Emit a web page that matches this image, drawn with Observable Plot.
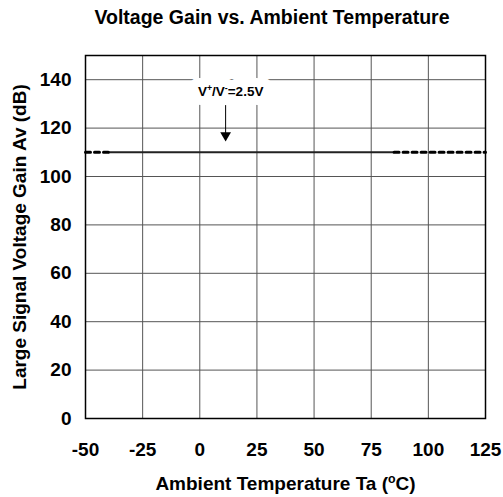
<!DOCTYPE html>
<html>
<head>
<meta charset="utf-8">
<script src="https://cdn.jsdelivr.net/npm/d3@7"></script>
<script src="https://cdn.jsdelivr.net/npm/@observablehq/plot@0.6"></script>
<style>
  html, body { margin: 0; padding: 0; background: #fff; }
  #title { width: 503px; height: 36px; line-height: 35px; text-align: center; font-family: "Liberation Sans", Arial, sans-serif; font-weight: bold; font-size: 19.5px; color: #000; padding-left: 41px; box-sizing: border-box; white-space: nowrap; }
</style>
</head>
<body>
<div id="title"></div>
<div id="chart"></div>
<script>
const titleText = "Voltage Gain vs. Ambient Temperature";
const xLabel = "Ambient Temperature Ta (°C)";
const yLabel = "Large Signal Voltage Gain Av (dB)";
const xTicks = [-50, -25, 0, 25, 50, 75, 100, 125];
const yTicks = [0, 20, 40, 60, 80, 100, 120, 140];
// measured (solid) range
const measTemp = [-40, 85];
const measGain = [110, 110];
// extrapolated (dotted) ranges
const extLeftTemp = [-50, -40];
const extLeftGain = [110, 110];
const extRightTemp = [85, 125];
const extRightGain = [110, 110];
// annotation
const noteText = ["V+/V-=2.5V"];
const noteX = [13.5];
const noteY = [135];
const arrowX = [11.3];
const arrowFrom = [129.5];
const arrowTo = [117];

document.getElementById("title").textContent = titleText;

const toRows = (xs, ys) => xs.map((x, i) => ({x, y: ys[i]}));

const chart = Plot.plot({
  width: 503,
  height: 461,
  marginTop: 19,
  marginBottom: 79,
  marginLeft: 85,
  marginRight: 18,
  style: {fontFamily: "'Liberation Sans', Arial, sans-serif", fontSize: "19px", fontWeight: "bold", color: "#000", background: "#fff"},
  x: {domain: [-50, 125], ticks: xTicks, tickFormat: d => String(d), tickSize: 0, tickPadding: 24, label: xLabel, labelAnchor: "center", labelArrow: "none", labelOffset: 71},
  y: {domain: [0, 150], ticks: yTicks, tickFormat: d => String(d), tickSize: 0, tickPadding: 14, label: yLabel, labelAnchor: "center", labelArrow: "none", labelOffset: 73},
  marks: [
    Plot.gridX(xTicks, {stroke: "#555", strokeOpacity: 1, strokeWidth: 1}),
    Plot.gridY(yTicks, {stroke: "#555", strokeOpacity: 1, strokeWidth: 1}),
    Plot.frame({stroke: "#000", strokeWidth: 1.5}),
    Plot.line(toRows(measTemp, measGain), {x: "x", y: "y", stroke: "#222", strokeWidth: 2}),
    Plot.line(toRows(extLeftTemp, extLeftGain), {x: "x", y: "y", stroke: "#000", strokeWidth: 3, strokeDasharray: "5,4"}),
    Plot.line(toRows(extRightTemp, extRightGain), {x: "x", y: "y", stroke: "#000", strokeWidth: 3, strokeDasharray: "5,4"}),
    Plot.text(noteText, {x: noteX, y: noteY, text: d => d, fill: "#fff", stroke: "#fff", strokeWidth: 18, fontSize: 13.5, fontWeight: "bold", className: "note-halo", ariaHidden: true}),
    Plot.text(noteText, {x: noteX, y: noteY, text: d => d, fill: "#000", fontSize: 13.5, fontWeight: "bold", className: "note-text"}),
    Plot.link(arrowX, {x1: d => d, x2: d => d, y1: arrowFrom, y2: arrowTo, stroke: "#000", strokeWidth: 1}),
    Plot.dot(arrowX, {x: d => d, y: arrowTo, symbol: "triangle", rotate: 180, r: 4, fill: "#000", stroke: "none"})
  ]
});
document.getElementById("chart").appendChild(chart);

// superscripts as real text via tspans
function superscriptify(textEl, parts) {
  const sel = d3.select(textEl);
  sel.text(null);
  for (const [s, sup] of parts) {
    const t = sel.append("tspan").text(s);
    if (sup) t.attr("baseline-shift", "super").attr("font-size", "65%");
  }
}
d3.select(chart).selectAll("text").each(function() {
  const s = this.textContent;
  if (s === xLabel) {
    superscriptify(this, [["Ambient Temperature Ta (", false], ["o", true], ["C)", false]]);
  } else if (s === noteText[0]) {
    superscriptify(this, [["V", false], ["+", true], ["/V", false], ["-", true], ["=2.5V", false]]);
  }
});
</script>
</body>
</html>
